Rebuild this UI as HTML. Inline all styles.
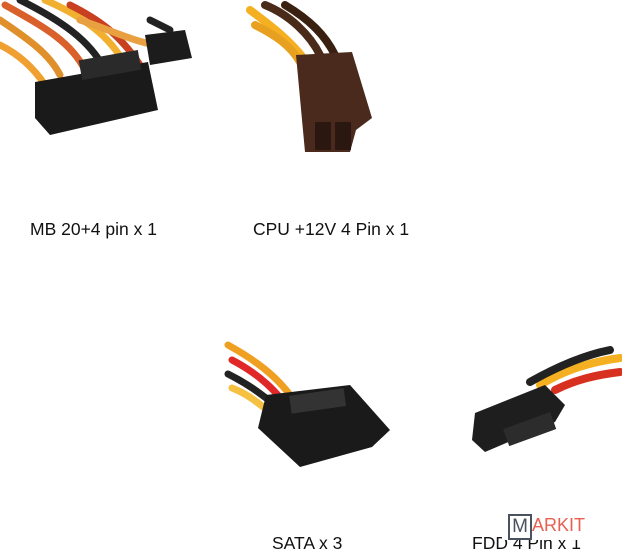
<!DOCTYPE html>
<html><head><style>
body{margin:0;width:622px;height:550px;background:#fff;overflow:hidden;position:relative;font-family:"Liberation Sans",sans-serif}
.t{position:absolute;font-size:17.5px;color:#111;white-space:nowrap}
</style></head><body>
<svg width="622" height="550" style="position:absolute;left:0;top:0">
<g stroke-linecap="round" fill="none" stroke-width="7">
<path d="M0 20 C30 40 50 55 60 75" stroke="#e0902a"/>
<path d="M5 5 C40 25 70 40 85 70" stroke="#d9602a"/>
<path d="M20 0 C60 20 90 40 105 70" stroke="#222"/>
<path d="M45 0 C80 15 110 35 125 65" stroke="#f2b030"/>
<path d="M70 5 C100 20 120 35 140 65" stroke="#c84020"/>
<path d="M80 20 C110 30 130 40 155 45" stroke="#e8a040"/>
<path d="M0 45 C20 55 35 70 45 85" stroke="#f0a030"/>
<path d="M150 20 L170 30" stroke="#222"/>
</g>
<polygon points="35,82 148,62 158,110 50,135 35,118" fill="#1a1a1a"/>
<rect x="80" y="55" width="60" height="20" fill="#2a2a2a" transform="rotate(-10 110 65)"/>
<polygon points="145,35 185,30 192,58 150,65" fill="#1c1c1c"/>
<g stroke-linecap="round" fill="none" stroke-width="8">
<path d="M250 10 C270 25 290 40 305 60" stroke="#f4b020"/>
<path d="M255 25 C275 35 290 45 300 62" stroke="#e8a020"/>
<path d="M265 5 C290 15 310 35 320 55" stroke="#4a2a18"/>
<path d="M285 5 C310 20 325 35 335 55" stroke="#3a2010"/>
</g>
<polygon points="296,55 352,52 372,118 356,130 350,152 305,152" fill="#4a2a1c"/>
<rect x="315" y="122" width="16" height="28" fill="#2a1810"/>
<rect x="335" y="122" width="16" height="28" fill="#2a1810"/>
<g stroke-linecap="round" fill="none" stroke-width="7">
<path d="M228 345 C255 360 275 375 290 395" stroke="#f0a020"/>
<path d="M232 360 C255 372 270 385 282 400" stroke="#e02828"/>
<path d="M228 374 C250 385 262 395 275 405" stroke="#222"/>
<path d="M232 388 C250 395 260 405 270 412" stroke="#f6c040"/>
</g>
<polygon points="266,395 350,385 390,430 372,447 300,467 258,428" fill="#1a1a1a"/>
<rect x="290" y="392" width="55" height="18" fill="#333" transform="rotate(-8 317 400)"/>
<g stroke-linecap="round" fill="none" stroke-width="8">
<path d="M620 358 C590 362 565 370 540 385" stroke="#f4b020"/>
<path d="M620 372 C595 375 575 380 555 390" stroke="#d83020"/>
<path d="M610 350 C585 355 560 365 530 382" stroke="#222"/>
</g>
<polygon points="475,413 545,385 565,405 555,422 485,452 472,440" fill="#1e1e1e"/>
<rect x="505" y="420" width="50" height="18" fill="#2c2c2c" transform="rotate(-20 530 430)"/>
</svg>
<div class="t" style="left:30px;top:219px">MB 20+4 pin x 1</div>
<div class="t" style="left:253px;top:219px">CPU +12V 4 Pin x 1</div>
<div class="t" style="left:272px;top:533px">SATA x 3</div>
<div class="t" style="left:472px;top:533px">FDD 4 Pin x 1</div>
<div style="position:absolute;left:502px;top:510px;width:88px;height:30px;background:#fff"></div>
<div style="position:absolute;left:508px;top:514px;width:20px;height:22px;border:2px solid #4a5260;background:#fff;color:#4a5260;font-size:19px;line-height:22px;text-align:center">M</div>
<div style="position:absolute;left:532px;top:515px;color:#e86050;font-size:18px">ARKIT</div>
</body></html>
